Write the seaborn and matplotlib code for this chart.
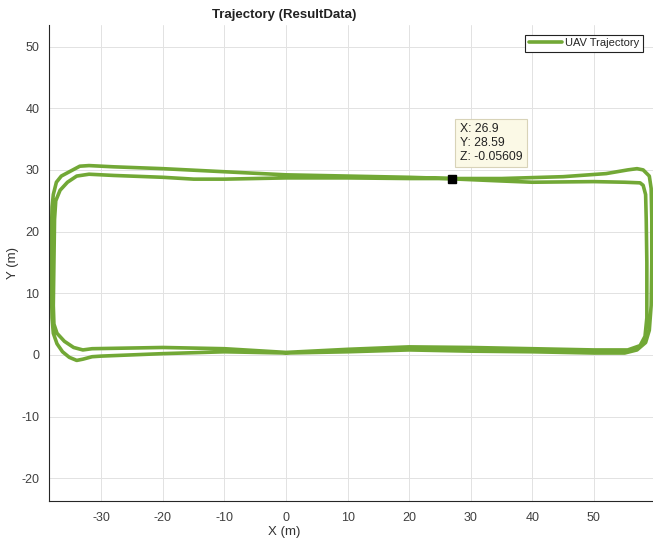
import numpy as np
import pandas as pd
import matplotlib
matplotlib.use("Agg")
import matplotlib.pyplot as plt
import seaborn as sns

# Trajectory waypoints (two laps)
x_m = [26.9, 20, 10, 0, -10, -20, -28, -32, -33.5, -35, -36.5, -37.3, -37.8, -38.0, -38.1, -38.1, -38.1,
       -38.0, -37.8, -37.2, -36.3, -35.2, -34, -33, -31.5, -30, -20, -10, 0, 10, 20, 30, 40, 50, 55,
       57, 58.4, 59, 59.3, 59.4, 59.4, 59.3, 59.0, 58, 57, 55.5, 52, 45, 35, 27,
       20, 10, 0, -10, -15, -20, -28, -32, -34, -35.5, -36.7, -37.4, -37.6, -37.7, -37.8, -37.7,
       -37.2, -36, -34.5, -33, -31.5, -20, -10, 0, 10, 20, 30, 40, 50, 55.5, 57.5, 58.3, 58.6,
       58.6, 58.5, 58.4, 58.0, 57.5, 55, 50, 40, 35, 28]
y_m = [28.59, 28.8, 29.0, 29.2, 29.7, 30.2, 30.5, 30.7, 30.6, 29.8, 29.0, 28.0, 26.0, 24.0, 20, 15, 10,
       6, 3.5, 1.8, 0.5, -0.4, -0.9, -0.7, -0.3, -0.2, 0.2, 0.5, 0.3, 0.5, 0.8, 0.6, 0.5, 0.3, 0.3,
       0.8, 2, 4, 8, 15, 22, 27, 29, 30.0, 30.2, 30.0, 29.4, 28.9, 28.6, 28.6,
       28.6, 28.7, 28.7, 28.5, 28.5, 28.8, 29.1, 29.3, 29.0, 28.0, 26.7, 25, 22, 15, 8, 5,
       3.5, 2.2, 1.2, 0.8, 1.0, 1.2, 1.0, 0.4, 0.9, 1.3, 1.2, 1.0, 0.8, 0.8, 1.5, 3, 6,
       15, 22, 26, 27.5, 27.9, 28.0, 28.1, 28.0, 28.2, 28.5]
order = list(range(len(x_m)))

tip_x = 26.9
tip_y = 28.59
tip_z = -0.05609

x_ticks = [-30, -20, -10, 0, 10, 20, 30, 40, 50]
y_ticks = [-20, -10, 0, 10, 20, 30, 40, 50]

df = pd.DataFrame({"x": x_m, "y": y_m, "i": order})

sns.set_theme(style="whitegrid")
plt.rcParams['font.family'] = ['Liberation Sans', 'DejaVu Sans']
plt.rcParams['axes.unicode_minus'] = False

fig = plt.figure(figsize=(6.53, 5.38), dpi=100)
ax = fig.add_axes([49/653, 37/538, 604/653, 476/538])
ax.set_facecolor("white")

green = "#72a836"
sns.lineplot(data=df, x="x", y="y", sort=False, estimator=None, ax=ax,
             color=green, linewidth=2.6, label="UAV Trajectory")

ax.plot([tip_x], [tip_y], marker="s", color="black", markersize=6, linestyle="none", zorder=5)
ax.text(28.2, 37.6, f"X: {tip_x}\nY: {tip_y}\nZ: {tip_z}", fontsize=8.8, va="top", ha="left",
        color="#222222", linespacing=1.2,
        bbox=dict(boxstyle="square,pad=0.35", facecolor="#fbf9e6", edgecolor="#d8d3b8", linewidth=0.8),
        zorder=6)

ax.set_xlim(-38.5, 59.6)
ax.set_ylim(-23.7, 53.5)
ax.set_xticks(x_ticks)
ax.set_yticks(y_ticks)
ax.grid(True, color="#e2e2e2", linewidth=0.7)

for s in ["top", "right"]:
    ax.spines[s].set_visible(False)
for s in ["left", "bottom"]:
    ax.spines[s].set_visible(True)
    ax.spines[s].set_color("#262626")
    ax.spines[s].set_linewidth(0.8)

ax.tick_params(axis="x", direction="in", length=4, width=0.7, colors="#262626",
               labelsize=9, labelcolor="#404040", pad=8)
ax.tick_params(axis="y", direction="out", length=4, width=0.7, colors="#262626",
               labelsize=9, labelcolor="#404040", pad=3)

ax.set_title("Trajectory (ResultData)", fontsize=9.5, fontweight="bold", x=0.39, pad=5, color="#222222")
ax.set_xlabel("X (m)", fontsize=9.5, color="#333333")
ax.set_ylabel("Y (m)", fontsize=9.5, color="#333333")
ax.xaxis.set_label_coords(0.39, -0.052)
ax.yaxis.set_label_coords(-0.05, 0.5)

leg = ax.legend(loc="upper right", bbox_to_anchor=(1 - 10/604, 1 - 10/476), borderaxespad=0,
                fancybox=False, frameon=True, fontsize=8, handlelength=3.0, borderpad=0.3,
                handletextpad=0.3)
leg.get_frame().set_edgecolor("#222222")
leg.get_frame().set_linewidth(0.8)
leg.get_frame().set_alpha(1)

fig.savefig("out.png", dpi=100)
